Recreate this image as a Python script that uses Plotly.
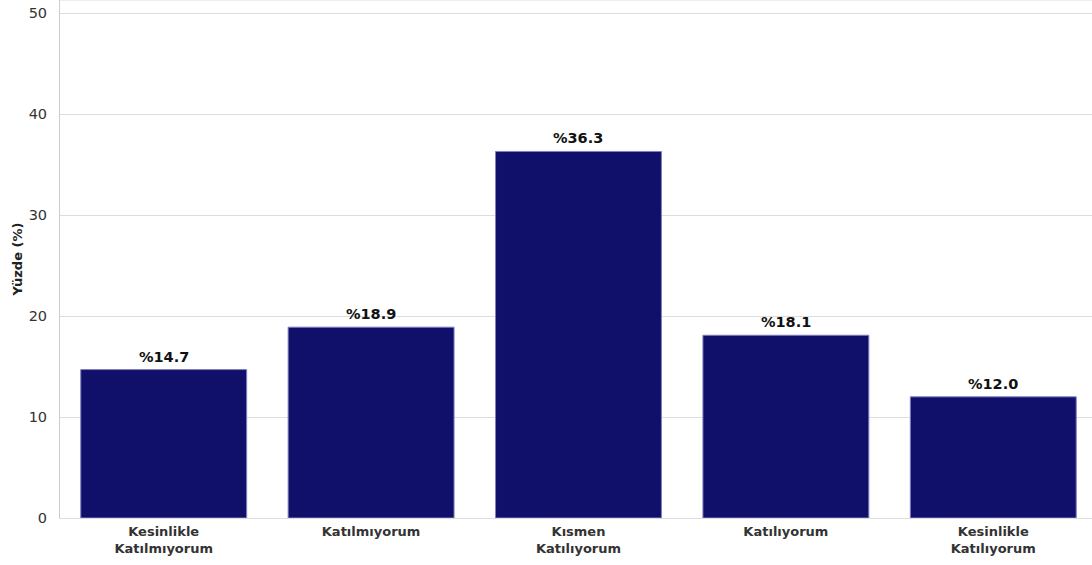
import plotly.graph_objects as go

categories = ["Kesinlikle Katılmıyorum", "Katılmıyorum", "Kısmen Katılıyorum", "Katılıyorum", "Kesinlikle Katılıyorum"]
tick_labels = ["Kesinlikle<br>Katılmıyorum", "Katılmıyorum", "Kısmen<br>Katılıyorum", "Katılıyorum", "Kesinlikle<br>Katılıyorum"]
values = [14.7, 18.9, 36.3, 18.1, 12.0]
y_ticks = [0, 10, 20, 30, 40, 50]

fig = go.Figure()
fig.add_trace(go.Bar(
    x=list(range(len(categories))), y=values, width=0.8,
    marker=dict(color="#10106b", line=dict(color="#8080c0", width=1)),
    hoverinfo="y",
))
for i, v in enumerate(values):
    fig.add_annotation(x=i, y=v, text=f"<b>%{v:.1f}</b>", showarrow=False,
                       yanchor="bottom", yshift=3,
                       font=dict(family="DejaVu Sans", size=14.5, color="#111111"))

fig.update_layout(
    width=1092, height=565,
    margin=dict(l=60, r=0, t=0, b=47, autoexpand=False),
    plot_bgcolor="white", paper_bgcolor="white",
    showlegend=False,
    font=dict(family="DejaVu Sans", color="#333333"),
    bargap=0.2,
)
fig.update_xaxes(
    range=[-0.5, 4.476], tickmode="array", tickvals=list(range(len(categories))),
    ticktext=[f"<b>{t}</b>" for t in tick_labels],
    tickfont=dict(family="DejaVu Sans", size=13, color="#333333"),
    showgrid=False, showline=True, linecolor="#dddddd", linewidth=1,
    ticks="", zeroline=False, automargin=False, ticklabelstandoff=1,
)
fig.update_yaxes(
    range=[0, 51.3], tickvals=y_ticks,
    tickfont=dict(family="DejaVu Sans", size=14.5, color="#333333"),
    showgrid=True, gridcolor="#dddddd", gridwidth=1,
    showline=True, linecolor="#cccccc", linewidth=1, mirror=False,
    zeroline=False, ticks="", automargin=False, ticklabelstandoff=9,
    title=dict(text="<b>Yüzde (%)</b>", font=dict(family="DejaVu Sans", size=13, color="#222222"), standoff=3),
)
fig.add_shape(type="line", xref="paper", yref="paper", x0=0, x1=1, y0=1, y1=1,
              line=dict(color="#dddddd", width=1))

fig.write_html("out.html", config={"displayModeBar": False},
               post_script="document.body.style.margin='0';document.body.style.padding='0';")
